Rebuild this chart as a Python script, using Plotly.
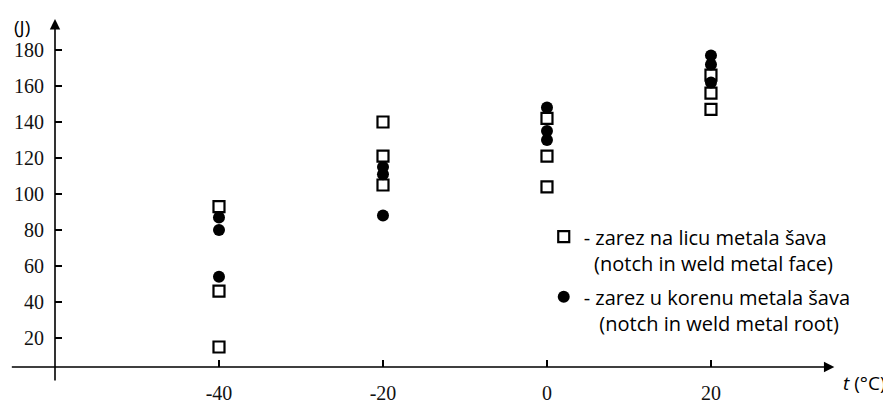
import plotly.graph_objects as go

# Temperatures (°C)
face_t = [-40, -40, -40, -20, -20, -20, 0, 0, 0, 20, 20, 20]
face_J = [93, 46, 15, 140, 121, 105, 142, 121, 104, 166, 156, 147]
root_t = [-40, -40, -40, -20, -20, -20, 0, 0, 0, 20, 20, 20]
root_J = [87, 80, 54, 115, 111, 88, 148, 135, 130, 177, 172, 162]

x_tickvals = [-40, -20, 0, 20]
x_ticktext = ["-40", "-20", "0", "20"]
y_tickvals = [20, 40, 60, 80, 100, 120, 140, 160, 180]

face_name = "- zarez na licu metala šava<br>\u00a0\u00a0(notch in weld metal face)"
root_name = "- zarez u korenu metala šava<br>\u00a0\u00a0\u00a0(notch in weld metal root)"

fig = go.Figure()
fig.add_trace(go.Scatter(
    x=face_t, y=face_J, mode="markers", name=face_name, legendgroup="face",
    marker=dict(symbol="square-open", size=11, color="black", line=dict(width=2.2, color="black")),
))
fig.add_trace(go.Scatter(
    x=root_t, y=root_J, mode="markers", name=root_name, legendgroup="root",
    marker=dict(symbol="circle", size=12, color="black"),
))

# The page body has an 8px margin, so the canvas is 8px smaller and everything is shifted.
fig.update_layout(
    width=883, height=392,
    margin=dict(l=47, r=59, t=4, b=33, autoexpand=False),
    plot_bgcolor="white", paper_bgcolor="white",
    showlegend=True,
    legend=dict(
        x=0.629, y=0.422, xanchor="left", yanchor="top",
        valign="top", bgcolor="rgba(0,0,0,0)",
        font=dict(family="Open Sans", size=20, color="black"),
        tracegroupgap=5,
    ),
    xaxis=dict(
        range=[-60, 34.76], showgrid=False, zeroline=False, showline=False,
        automargin=False,
        tickmode="array", tickvals=x_tickvals, ticktext=x_ticktext,
        ticks="inside", ticklen=7, tickwidth=1.5, tickcolor="black",
        ticklabelstandoff=12,
        tickfont=dict(family="Liberation Serif", size=20, color="#111"),
    ),
    yaxis=dict(
        range=[3.9, 201.1], showgrid=False, zeroline=False, showline=False,
        automargin=False,
        tickmode="array", tickvals=y_tickvals,
        ticks="inside", ticklen=7, tickwidth=1.5, tickcolor="black",
        ticklabelstandoff=10,
        tickfont=dict(family="Liberation Serif", size=20, color="#111"),
    ),
    annotations=[
        # x-axis with arrow
        dict(x=1.003, y=0, xref="paper", yref="paper", ax=-824, ay=0, text="",
             showarrow=True, arrowhead=2, arrowsize=1.3, arrowwidth=1.6, arrowcolor="black"),
        # y-axis with arrow
        dict(x=0, y=0.98, xref="paper", yref="paper", ax=0, ay=363, text="",
             showarrow=True, arrowhead=2, arrowsize=1.3, arrowwidth=1.6, arrowcolor="black"),
        dict(x=-0.0553, y=0.958, xref="paper", yref="paper", text="(J)", showarrow=False,
             xanchor="left", yanchor="middle",
             font=dict(family="Open Sans", size=19, color="black")),
        dict(x=1.012, y=-0.045, xref="paper", yref="paper", text="<i>t</i> (°C)", showarrow=False,
             xanchor="left", yanchor="middle",
             font=dict(family="Open Sans", size=19, color="black")),
    ],
)

fig.write_html("out.html")
